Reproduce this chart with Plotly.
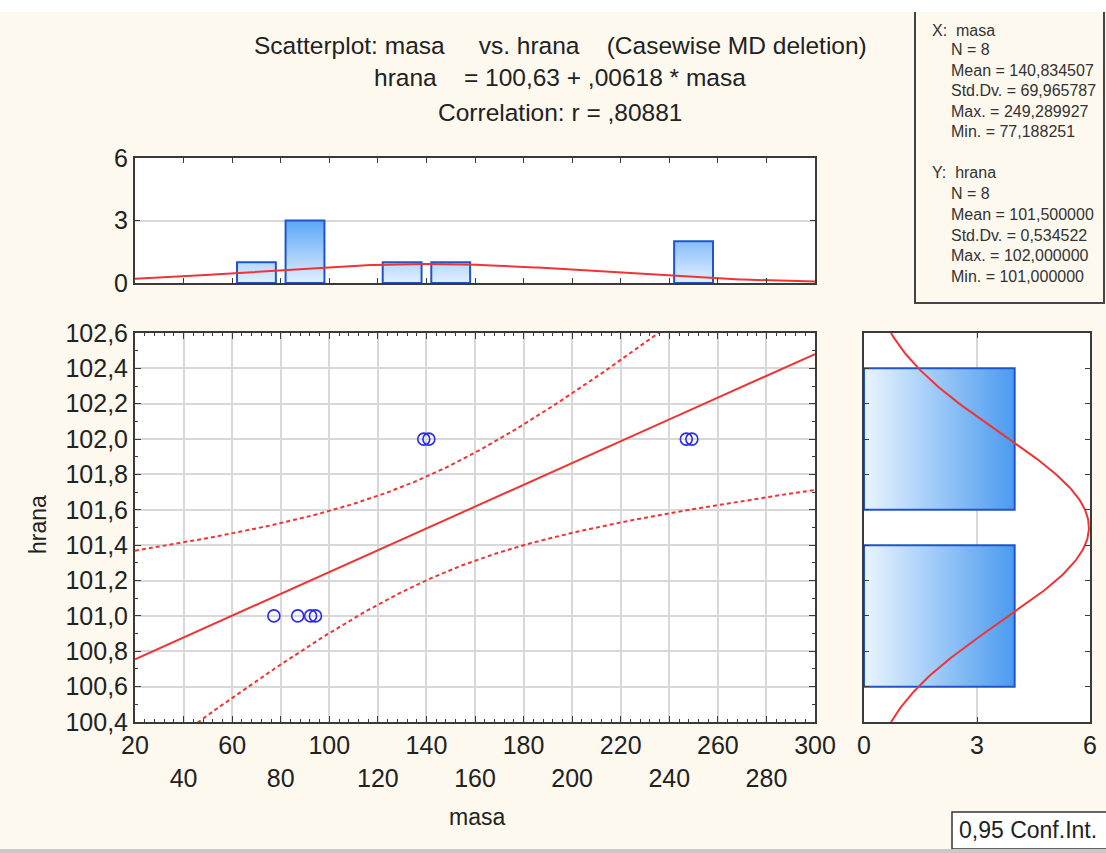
import numpy as np
import plotly.graph_objects as go

# values
masa = [77.19, 87.0, 92.3, 94.3, 138.9, 141.0, 247.0, 249.29]
hrana = [101, 101, 101, 101, 102, 102, 102, 102]

x_ticks = [20, 40, 60, 80, 100, 120, 140, 160, 180, 200, 220, 240, 260, 280, 300]
y_ticks = [100.4, 100.6, 100.8, 101.0, 101.2, 101.4, 101.6, 101.8, 102.0, 102.2, 102.4, 102.6]
hist_ticks = [0, 3, 6]

x_bin_edges = [20, 40, 60, 80, 100, 120, 140, 160, 180, 200, 220, 240, 260, 280, 300]
y_bin_edges = [100.5, 101.5, 102.5]

title_lines = [
    "Scatterplot: masa     vs. hrana    (Casewise MD deletion)",
    "hrana    = 100,63 + ,00618 * masa",
    "Correlation: r = ,80881",
]
stats_x = ["N = 8", "Mean = 140,834507", "Std.Dv. = 69,965787", "Max. = 249,289927", "Min. = 77,188251"]
stats_y = ["N = 8", "Mean = 101,500000", "Std.Dv. = 0,534522", "Max. = 102,000000", "Min. = 101,000000"]

RED = "#ee3434"
BLUE_EDGE = "#1f55c8"
FONT = "Liberation Sans, Arial, sans-serif"
CREAM = "#fdf9ee"

W, H = 1106, 853


def px(x):
    return x / W


def py(y):
    return 1 - y / H


x = np.array(masa, dtype=float)
y = np.array(hrana, dtype=float)
n = len(x)

# regression line + 95% confidence band for the mean
slope, intercept = np.polyfit(x, y, 1)
xg = np.linspace(20, 300, 200)
fit = intercept + slope * xg
resid = y - (intercept + slope * x)
s = np.sqrt((resid ** 2).sum() / (n - 2))
sxx = ((x - x.mean()) ** 2).sum()
t_crit = 2.446912  # t(0.975, df=6)
half = t_crit * s * np.sqrt(1 / n + (xg - x.mean()) ** 2 / sxx)

# histograms
x_counts, _ = np.histogram(x, bins=x_bin_edges)
y_counts, _ = np.histogram(y, bins=y_bin_edges)


def normal_curve(grid, data, binw):
    m, sd = data.mean(), data.std(ddof=1)
    return len(data) * binw * np.exp(-0.5 * ((grid - m) / sd) ** 2) / (sd * np.sqrt(2 * np.pi))


fig = go.Figure()

# scatter panel
fig.add_trace(go.Scatter(x=xg, y=fit, mode="lines", line=dict(color=RED, width=2),
                         xaxis="x", yaxis="y", hoverinfo="skip"))
for band in (fit + half, fit - half):
    fig.add_trace(go.Scatter(x=xg, y=band, mode="lines",
                             line=dict(color=RED, width=2, dash="4px,3px"),
                             xaxis="x", yaxis="y", hoverinfo="skip"))
fig.add_trace(go.Scatter(x=masa, y=hrana, mode="markers",
                         marker=dict(symbol="circle-open", size=12, color="#2b2be8",
                                     line=dict(width=1.6)),
                         xaxis="x", yaxis="y"))

# top histogram (masa)
bx, by = [], []
xw = x_bin_edges[1] - x_bin_edges[0]
for left, c in zip(x_bin_edges[:-1], x_counts):
    if c == 0:
        continue
    l, r = left + 0.1 * xw, left + 0.9 * xw
    bx += [l, r, r, l, l, None]
    by += [0, 0, c, c, 0, None]
fig.add_trace(go.Scatter(x=bx, y=by, mode="lines", fill="toself",
                         line=dict(color=BLUE_EDGE, width=2),
                         fillgradient=dict(type="vertical",
                                           colorscale=[[0, "#e2f0ff"], [1, "#5aa6f6"]],
                                           start=0, stop=3),
                         xaxis="x2", yaxis="y2", hoverinfo="skip"))
fig.add_trace(go.Scatter(x=xg, y=normal_curve(xg, x, xw), mode="lines",
                         line=dict(color=RED, width=2), xaxis="x2", yaxis="y2",
                         hoverinfo="skip"))

# right histogram (hrana)
hx, hy = [], []
yw = y_bin_edges[1] - y_bin_edges[0]
for low, c in zip(y_bin_edges[:-1], y_counts):
    b, t = low + 0.1 * yw, low + 0.9 * yw
    hx += [0, c, c, 0, 0, None]
    hy += [b, b, t, t, b, None]
fig.add_trace(go.Scatter(x=hx, y=hy, mode="lines", fill="toself",
                         line=dict(color=BLUE_EDGE, width=2),
                         fillgradient=dict(type="horizontal",
                                           colorscale=[[0, "#eaf5ff"], [1, "#4b9af0"]],
                                           start=0, stop=4),
                         xaxis="x3", yaxis="y3", hoverinfo="skip"))
yg = np.linspace(100.4, 102.6, 200)
fig.add_trace(go.Scatter(x=normal_curve(yg, y, yw), y=yg, mode="lines",
                         line=dict(color=RED, width=2), xaxis="x3", yaxis="y3",
                         hoverinfo="skip"))

frame = dict(showline=True, linecolor="#3a3a3a", linewidth=2, mirror="ticks",
             ticks="inside", tickcolor="#3a3a3a", zeroline=False, automargin=False,
             tickfont=dict(family=FONT, size=25, color="#222"))
grid = dict(showgrid=True, gridcolor="#d8d8d8", gridwidth=1.5)

x_text = [str(v) if i % 2 == 0 else "<br>" + str(v) for i, v in enumerate(x_ticks)]

fig.update_layout(
    width=W, height=H,
    margin=dict(l=0, r=0, t=0, b=0, pad=0),
    paper_bgcolor=CREAM,
    plot_bgcolor="white",
    showlegend=False,
    separators=",.",
    xaxis=dict(domain=[px(135), px(815)], range=[20, 300], anchor="y",
               tickvals=x_ticks, ticktext=x_text, ticklen=6,
               minor=dict(ticks="inside", ticklen=3, dtick=4, tick0=0, tickcolor="#3a3a3a"),
               **frame, **grid),
    yaxis=dict(domain=[py(722), py(333)], range=[100.4, 102.6], anchor="x",
               tickvals=y_ticks, tickformat=".1f", ticklen=6,
               minor=dict(ticks="inside", ticklen=3, dtick=0.1, tick0=0, tickcolor="#3a3a3a"),
               **frame, **grid),
    xaxis2=dict(domain=[px(135), px(815)], range=[20, 300], anchor="y2",
                tickvals=x_ticks, showticklabels=False, ticklen=5, showgrid=False, **frame),
    yaxis2=dict(domain=[py(283), py(158)], range=[0, 6], anchor="x2",
                tickvals=hist_ticks, ticklen=5, **frame, **grid),
    xaxis3=dict(domain=[px(864), px(1090)], range=[0, 6], anchor="y3",
                tickvals=hist_ticks, ticklen=5, **frame, **grid),
    yaxis3=dict(domain=[py(722), py(333)], range=[100.4, 102.6], anchor="x3",
                tickvals=y_ticks, showticklabels=False, ticklen=5, showgrid=False, **frame),
)

shapes = [
    # stats box
    dict(type="rect", xref="paper", yref="paper", x0=px(915), x1=px(1104), y0=py(303), y1=py(-5),
         fillcolor=CREAM, line=dict(color="#444", width=2)),
    # white strip on top
    dict(type="rect", xref="paper", yref="paper", x0=0, x1=1, y0=py(12), y1=1,
         fillcolor="white", line=dict(width=0)),
    # conf. int. box
    dict(type="rect", xref="paper", yref="paper", x0=px(952), x1=px(1112), y0=py(849), y1=py(812),
         fillcolor="white", line=dict(color="#333", width=1.5)),
    # gray status strip
    dict(type="rect", xref="paper", yref="paper", x0=0, x1=1, y0=0, y1=py(849),
         fillcolor="#c9c9c9", line=dict(width=0)),
]
fig.update_layout(shapes=shapes)

ann = []
for i, (line, yy) in enumerate(zip(title_lines, [45, 78, 113])):
    ann.append(dict(text=line, x=px(560), y=py(yy), xref="paper", yref="paper",
                    showarrow=False, xanchor="center", yanchor="middle",
                    font=dict(family=FONT, size=24.5, color="#222")))

ann.append(dict(text="masa", x=px(477), y=py(817), xref="paper", yref="paper", showarrow=False,
                xanchor="center", yanchor="middle", font=dict(family=FONT, size=23, color="#222")))
ann.append(dict(text="hrana", x=px(38), y=py(525), xref="paper", yref="paper", showarrow=False,
                xanchor="center", yanchor="middle", textangle=-90,
                font=dict(family=FONT, size=23, color="#222")))
ann.append(dict(text="0,95 Conf.Int.", x=px(957), y=py(830), xref="paper", yref="paper",
                showarrow=False, xanchor="left", yanchor="middle",
                font=dict(family=FONT, size=23, color="#222")))

stat_font = dict(family=FONT, size=16, color="#333")
ann.append(dict(text="X:  masa", x=px(930), y=py(30), xref="paper", yref="paper",
                showarrow=False, xanchor="left", yanchor="middle", font=stat_font))
for i, line in enumerate(stats_x):
    ann.append(dict(text=line, x=px(949), y=py(50 + 20.4 * i), xref="paper", yref="paper",
                    showarrow=False, xanchor="left", yanchor="middle", font=stat_font))
ann.append(dict(text="Y:  hrana", x=px(930), y=py(173), xref="paper", yref="paper",
                showarrow=False, xanchor="left", yanchor="middle", font=stat_font))
for i, line in enumerate(stats_y):
    ann.append(dict(text=line, x=px(949), y=py(194 + 20.6 * i), xref="paper", yref="paper",
                    showarrow=False, xanchor="left", yanchor="middle", font=stat_font))

fig.update_layout(annotations=ann)

# drop the default page margin so the figure sits at the window's corner
fig.write_html("out.html",
               config={"displayModeBar": False},
               post_script="document.body.style.margin='0';"
                           "document.body.style.background='" + CREAM + "';")
